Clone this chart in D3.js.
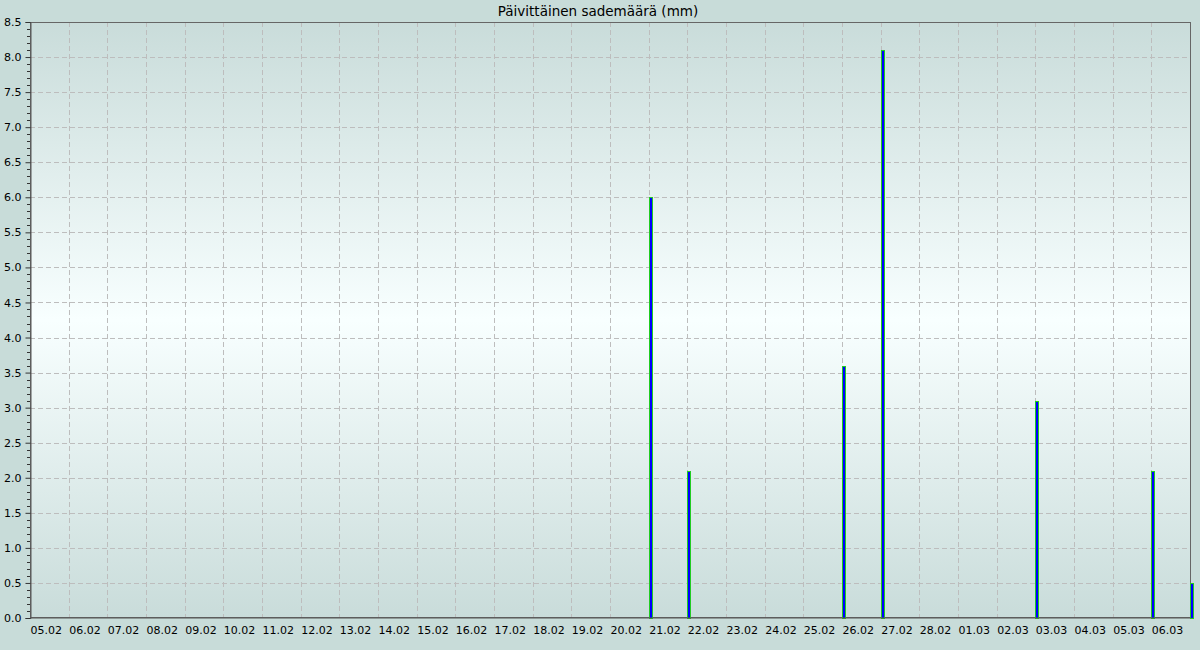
<!DOCTYPE html>
<html><head><meta charset="utf-8">
<script src="https://cdn.jsdelivr.net/npm/d3@7"></script>
<style>
html,body{margin:0;padding:0;background:#c8dcd9;}
svg{display:block;font-family:"DejaVu Sans",sans-serif;}
</style></head>
<body>
<svg id="chart" width="1200" height="650"></svg>
<script>
const title = "Päivittäinen sademäärä (mm)";
const year = 2023;
const startDay = "05.02";
const endDay = "07.03";
const dayLabels = ["05.02","06.02","07.02","08.02","09.02","10.02","11.02","12.02","13.02","14.02","15.02","16.02","17.02","18.02","19.02","20.02","21.02","22.02","23.02","24.02","25.02","26.02","27.02","28.02","01.03","02.03","03.03","04.03","05.03","06.03"];
const rainDates = ["21.02","22.02","26.02","27.02","03.03","06.03","07.03"];
const rainValues = [6.0, 2.1, 3.6, 8.1, 3.1, 2.1, 0.5];
const yTicks = [0,0.5,1,1.5,2,2.5,3,3.5,4,4.5,5,5.5,6,6.5,7,7.5,8,8.5];

const parse = s => d3.utcParse("%d.%m.%Y")(s + "." + year);
const W = 1200, H = 650;
const m = {left:30, right:10, top:22, bottom:32};
const svg = d3.select("#chart");

const defs = svg.append("defs");
const g1 = defs.append("linearGradient").attr("id","bg").attr("x1",0).attr("x2",0).attr("y1",0).attr("y2",1);
g1.append("stop").attr("offset","0%").attr("stop-color","#c9dcda");
g1.append("stop").attr("offset","50%").attr("stop-color","#f8ffff");
g1.append("stop").attr("offset","100%").attr("stop-color","#c9dcda");

const x = d3.scaleUtc().domain([parse(startDay), parse(endDay)]).range([m.left, W - m.right]);
const y = d3.scaleLinear().domain([0, 8.5]).range([H - m.bottom, m.top]);
const px = d => Math.round(x(parse(d)));

svg.append("rect").attr("width",W).attr("height",H).attr("fill","#c8dcd9");
svg.append("rect").attr("x",m.left).attr("y",m.top).attr("width",W-m.left-m.right).attr("height",H-m.top-m.bottom).attr("fill","url(#bg)");

// grid
const grid = svg.append("g").attr("stroke","#bdbdbd").attr("stroke-dasharray","5,3").attr("shape-rendering","crispEdges");
grid.selectAll("line.h").data(yTicks.slice(1,-1)).join("line")
  .attr("x1",m.left).attr("x2",W-m.right)
  .attr("y1",d=>Math.round(y(d))+0.5).attr("y2",d=>Math.round(y(d))+0.5);
grid.selectAll("line.v").data(dayLabels.slice(1)).join("line")
  .attr("y1",m.top).attr("y2",H-m.bottom)
  .attr("x1",d=>px(d)+0.5).attr("x2",d=>px(d)+0.5);

// frame
svg.append("rect").attr("x",m.left+0.5).attr("y",m.top+0.5).attr("width",W-m.left-m.right).attr("height",H-m.top-m.bottom-1)
  .attr("fill","none").attr("stroke","#666").attr("shape-rendering","crispEdges");

// bars
svg.append("g").selectAll("rect").data(rainDates.map((d,i)=>({d, v: rainValues[i]}))).join("rect")
  .attr("x",d=>px(d.d)+0.5)
  .attr("width",3)
  .attr("y",d=>Math.round(y(d.v))+0.5)
  .attr("height",d=>Math.round(y(0))-Math.round(y(d.v)))
  .attr("fill","#0000ff").attr("stroke","#22cc22").attr("stroke-width",1).attr("shape-rendering","crispEdges");

// y axis
const yAxis = d3.axisLeft(y).tickValues(yTicks).tickFormat(d3.format(".1f")).tickSize(5).tickPadding(4);
const ya = svg.append("g").attr("transform",`translate(${m.left+0.5},0)`).call(yAxis);
ya.select(".domain").attr("stroke","#555");
ya.selectAll(".tick line").attr("stroke","#333");
ya.selectAll("text").attr("font-size","11px").attr("fill","#000").attr("font-family","DejaVu Sans");
const minor = d3.range(0, 85).map(i=>i/10).filter(v=>Math.abs(v*2-Math.round(v*2))>1e-6);
svg.append("g").attr("stroke","#333").attr("shape-rendering","crispEdges").selectAll("line").data(minor).join("line")
  .attr("x1",m.left-3).attr("x2",m.left)
  .attr("y1",d=>Math.round(y(d))+0.5).attr("y2",d=>Math.round(y(d))+0.5);

// x axis
const xAxis = d3.axisBottom(x).tickValues(dayLabels.map(parse)).tickFormat(d3.utcFormat("%d.%m")).tickSize(0).tickPadding(9);
const xa = svg.append("g").attr("transform",`translate(0,${H-m.bottom-0.5})`).call(xAxis);
xa.select(".domain").attr("stroke","#555");
xa.selectAll("text").attr("font-size","11px").attr("fill","#000").attr("font-family","DejaVu Sans")
  .attr("text-anchor","start").attr("dx","0");

// title
svg.append("text").attr("x",598).attr("y",15.5).attr("text-anchor","middle")
  .attr("font-size","13.5px").attr("fill","#000").text(title);
</script>
</body></html>
